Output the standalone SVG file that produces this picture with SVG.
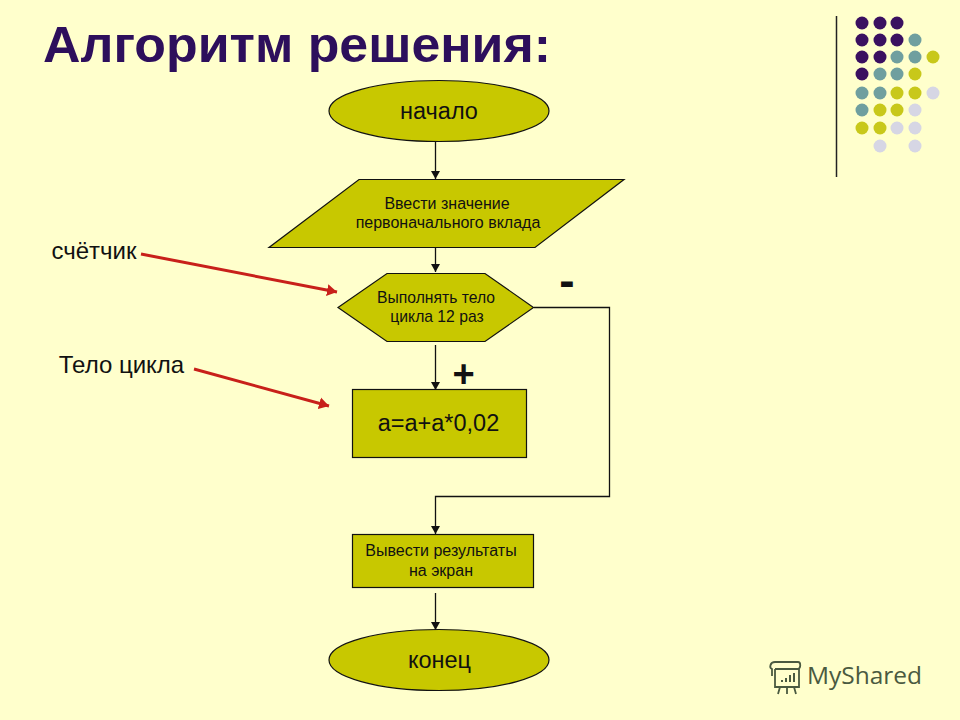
<svg xmlns="http://www.w3.org/2000/svg" width="960" height="720" viewBox="0 0 960 720">
<style>
text{font-family:"Liberation Sans",Arial,sans-serif;fill:#111;text-anchor:middle}
.s{fill:#c8c800;stroke:#111;stroke-width:1.2}
.c{fill:none;stroke:#111;stroke-width:1.3;marker-end:url(#a)}
.r{fill:none;stroke:#c8201a;stroke-width:3;marker-end:url(#b)}
.sm{font-size:16px}
.sf{font-size:15.700px}
.md{font-size:23.500px}
.lg{font-size:24px}
.p{fill:#3a1060}.t{fill:#6f9f9f}.y{fill:#c8c81a}.g{fill:#d6d6e4}
.l{fill:none;stroke:#4a5a40;stroke-width:1.8}
</style>
<defs>
<marker id="a" markerUnits="userSpaceOnUse" markerWidth="9" markerHeight="11" refX="8" refY="5.500" orient="auto"><path d="M0 1L8 5.500L0 10Z" fill="#111"/></marker>
<marker id="b" markerUnits="userSpaceOnUse" markerWidth="11" markerHeight="14" refX="10" refY="7" orient="auto"><path d="M0 1L10 7L0 13Z" fill="#c8201a"/></marker>
</defs>
<rect width="960" height="720" fill="#ffffcc"/>
<text id="title" x="297" y="62" font-size="50" font-weight="bold" style="fill:#2d0f5c" textLength="508" lengthAdjust="spacingAndGlyphs">Алгоритм решения:</text>
<g id="decor">
<path d="M836.500 16V177" stroke="#222" stroke-width="1.500"/>
<g class="p"><circle cx="862" cy="23" r="6.500"/><circle cx="880" cy="23" r="6.500"/><circle cx="897" cy="23" r="6.500"/><circle cx="862" cy="40" r="6.500"/><circle cx="880" cy="40" r="6.500"/><circle cx="897" cy="40" r="6.500"/><circle cx="862" cy="57" r="6.500"/><circle cx="880" cy="57" r="6.500"/><circle cx="862" cy="74" r="6.500"/></g>
<g class="t"><circle cx="915" cy="40" r="6.500"/><circle cx="897" cy="57" r="6.500"/><circle cx="915" cy="57" r="6.500"/><circle cx="880" cy="74" r="6.500"/><circle cx="897" cy="74" r="6.500"/><circle cx="862" cy="93" r="6.500"/><circle cx="880" cy="93" r="6.500"/><circle cx="862" cy="110" r="6.500"/></g>
<g class="y"><circle cx="933" cy="57" r="6.500"/><circle cx="915" cy="74" r="6.500"/><circle cx="897" cy="93" r="6.500"/><circle cx="915" cy="93" r="6.500"/><circle cx="880" cy="110" r="6.500"/><circle cx="897" cy="110" r="6.500"/><circle cx="862" cy="128" r="6.500"/><circle cx="880" cy="128" r="6.500"/></g>
<g class="g"><circle cx="933" cy="93" r="6.500"/><circle cx="915" cy="110" r="6.500"/><circle cx="897" cy="128" r="6.500"/><circle cx="915" cy="128" r="6.500"/><circle cx="880" cy="146" r="6.500"/><circle cx="915" cy="146" r="6.500"/></g>
</g>
<g id="connectors">
<path class="c" d="M435.500 142V179"/>
<path class="c" d="M435.500 248V272"/>
<path class="c" d="M435.500 345V390"/>
<path class="c" d="M534 307.500H609.500V496.500H435.500V534"/>
<path class="c" d="M435.500 593V630"/>
<path class="r" d="M141 254L337 292"/>
<path class="r" d="M194 369L329 406"/>
</g>
<g id="start"><ellipse class="s" cx="439" cy="111" rx="110" ry="30.500"/><text class="md" x="439" y="119">начало</text></g>
<g id="input"><path class="s" d="M359 179.500H624L535 247.500H269Z"/><text class="sm" x="447" y="209">Ввести значение</text><text class="sm" x="448" y="228">первоначального вклада</text></g>
<g id="loop"><path class="s" d="M387 273.500H485L533.500 307.500L485 341.500H387L338 307.500Z"/><text class="sf" x="436" y="303">Выполнять тело</text><text class="sf" x="437" y="322">цикла  12 раз</text></g>
<g id="body"><rect class="s" x="352.500" y="389.500" width="174" height="68"/><text class="md" x="438.500" y="431">a=a+a*0,02</text></g>
<g id="output"><rect class="s" x="352.500" y="534.500" width="181" height="53"/><text class="sm" x="441" y="556">Вывести результаты</text><text class="sm" x="441" y="576">на экран</text></g>
<g id="end"><ellipse class="s" cx="439" cy="660" rx="110" ry="30.500"/><text class="md" x="439.500" y="668">конец</text></g>
<text class="lg" x="94" y="259">счётчик</text>
<text class="lg" x="121.500" y="373">Тело цикла</text>
<text x="463.500" y="387" font-size="38" font-weight="bold">+</text>
<text x="567" y="296" font-size="46" font-weight="bold">-</text>
<g id="watermark">
<path class="l" d="M775 662H798C801 662 801 668 798 669H775M775 662C770 662 769 668 772 669V676M775 669V687H799V669M780 687L778 694M787 687V694M794 687L796 694"/>
<path d="M781 680h2v2h-2zM785 678h2v4h-2zM789 675h2v7h-2zM793 673h2v9h-2z" fill="#4a5a40"/>
<text x="864.500" y="684" font-size="24" style="fill:#4a5a40;font-family:'Open Sans','Liberation Sans',sans-serif" textLength="115" lengthAdjust="spacingAndGlyphs">MyShared</text>
</g>
</svg>
